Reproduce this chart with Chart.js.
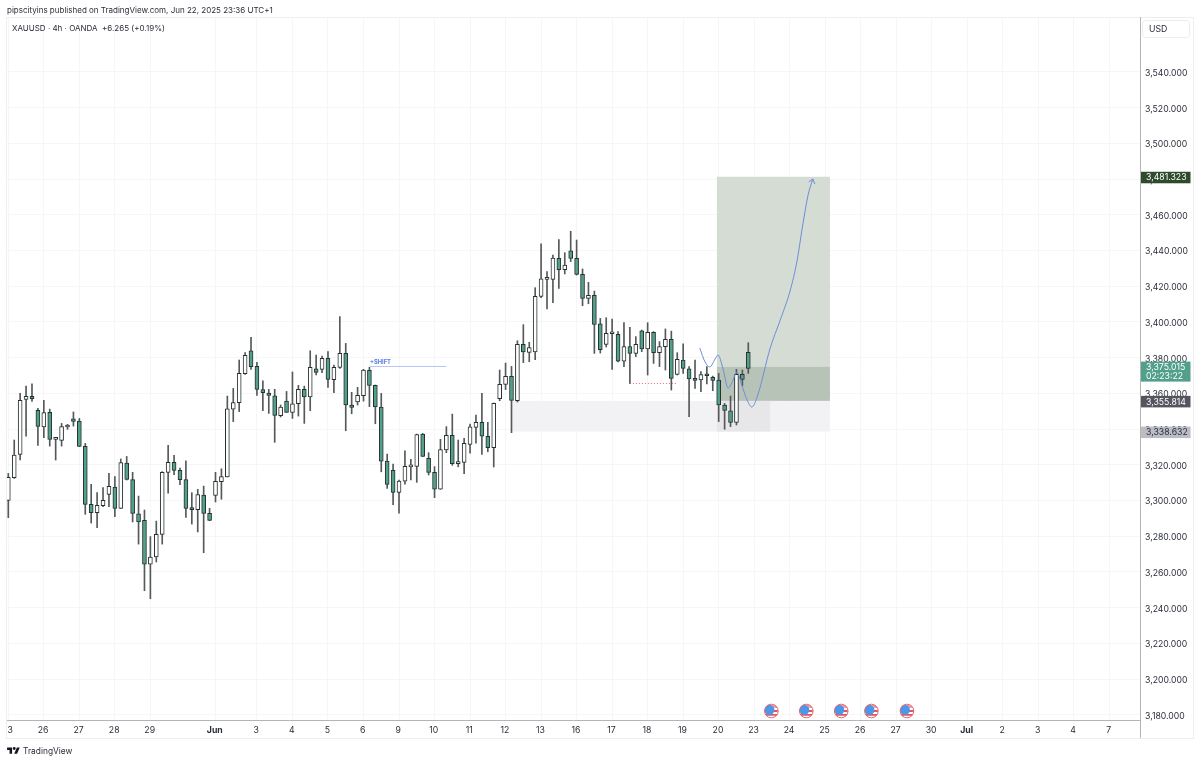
<!DOCTYPE html>
<html><head><meta charset="utf-8">
<style>
html,body{margin:0;padding:0;background:#fff;width:1200px;height:762px;overflow:hidden}
#wrap{position:relative;width:1200px;height:762px}
canvas{position:absolute;left:0;top:0}
.t{position:absolute;font-family:Inter,"Noto Sans",sans-serif;color:#2a2e39;white-space:pre}
</style>
</head><body><div id="wrap">
<canvas id="c" width="1200" height="762"></canvas>
<div class="t" id="pub" style="left:7px;top:4px;font-size:8px;line-height:12px"></div>
<div class="t" id="sym" style="left:12px;top:22px;font-size:8px;line-height:12px"></div>
<svg style="position:absolute;left:7px;top:746px" width="13" height="10" viewBox="0 0 36 28"><path d="M14 22H7V11H0V4h14v18zM28 22h-8l7.5-18h8L28 22z" fill="#131722"/><circle cx="20" cy="7" r="4" fill="#131722"/></svg>
<div class="t" id="brand" style="left:23px;top:745px;font-size:8.4px;line-height:12px"></div>
</div>
<script src="https://cdn.jsdelivr.net/npm/chart.js@4/dist/chart.umd.min.js"></script>
<script>
const publishedText = "pipscityins published on TradingView.com, Jun 22, 2025 23:36 UTC+1";
const symbolText = "XAUUSD · 4h · OANDA  +6.265 (+0.19%)";
const brandText = "TradingView";

const highs = [
3315.2,3333.9,3360.0,3364.1,3365.3,3351.6,3356.1,3351.2,3335.4,3343.2,
3342.7,3349.6,3346.0,3332.0,3309.1,3304.4,3307.2,3315.2,3313.4,3323.3,
3324.7,3315.8,3302.5,3294.7,3279.8,3288.5,3316.2,3330.9,3325.3,3318.2,
3322.3,3304.4,3306.3,3308.1,3295.6,3315.8,3317.8,3358.5,3362.8,3378.7,
3382.8,3391.4,3377.4,3367.1,3362.3,3362.3,3353.5,3361.1,3372.0,3364.5,
3364.1,3383.9,3381.5,3380.9,3383.4,3375.9,3403.0,3388.0,3360.6,3363.4,
3373.5,3374.6,3364.7,3360.0,3326.0,3320.4,3311.5,3327.9,3323.1,3337.2,
3337.6,3326.8,3319.0,3334.3,3341.4,3348.4,3333.9,3334.8,3342.8,3347.9,
3360.0,3343.8,3354.6,3373.1,3377.0,3375.1,3389.5,3398.5,3388.6,3419.2,
3443.7,3428.2,3437.5,3446.1,3438.8,3450.8,3445.9,3429.7,3422.2,3417.3,
3402.0,3402.4,3401.6,3394.6,3399.6,3397.0,3391.8,3395.5,3399.6,3394.6,
3389.0,3396.1,3394.9,3382.8,3387.7,3375.0,3378.7,3372.2,3375.0,3369.7,
3371.2,3354.4,3358.5,3373.5,3373.1,3388.4];
const lows = [
3290.4,3312.4,3322.7,3336.1,3355.5,3330.9,3335.2,3330.5,3322.7,3330.5,
3339.9,3341.7,3330.2,3292.3,3287.4,3284.8,3296.6,3296.6,3291.0,3295.6,
3311.5,3288.0,3275.6,3249.5,3245.0,3265.6,3275.6,3304.2,3314.5,3308.9,
3290.6,3286.8,3282.4,3270.8,3288.7,3299.2,3300.7,3313.2,3344.2,3349.8,
3370.7,3373.5,3358.9,3350.3,3348.8,3332.6,3346.8,3349.4,3346.0,3347.3,
3343.2,3350.3,3370.3,3371.6,3363.4,3360.4,3374.0,3339.1,3348.6,3353.5,
3355.7,3352.6,3343.0,3316.1,3306.8,3297.7,3293.0,3309.2,3311.5,3310.2,
3324.6,3314.3,3301.6,3306.3,3326.8,3319.7,3318.9,3315.0,3326.6,3332.2,
3325.9,3327.3,3318.8,3355.9,3362.1,3338.0,3355.2,3377.2,3377.8,3378.9,
3413.6,3407.3,3410.8,3418.8,3426.9,3433.8,3426.3,3409.1,3410.2,3382.4,
3382.6,3386.0,3373.5,3377.6,3375.0,3365.6,3380.6,3383.4,3370.3,3376.8,
3375.0,3373.1,3361.9,3370.3,3371.2,3347.0,3362.8,3361.0,3365.3,3361.5,
3344.2,3339.9,3341.4,3342.3,3364.3,3371.2];
const opens = [
3300.1,3312.8,3325.9,3356.7,3358.3,3350.5,3341.2,3349.4,3334.3,3333.7,
3341.2,3345.8,3344.5,3330.3,3297.9,3293.2,3297.1,3303.5,3307.6,3295.6,
3321.0,3311.7,3292.6,3288.9,3264.3,3268.4,3281.1,3315.8,3321.4,3316.9,
3311.7,3295.6,3294.9,3303.1,3292.8,3302.9,3310.6,3313.2,3351.2,3354.8,
3371.0,3383.9,3375.1,3362.1,3360.2,3358.7,3347.5,3355.7,3349.4,3354.2,
3362.3,3358.0,3373.8,3373.5,3379.6,3367.7,3374.6,3382.4,3353.5,3355.2,
3358.7,3372.9,3364.5,3352.4,3322.1,3316.9,3304.6,3310.9,3318.9,3319.1,
3337.2,3323.6,3315.8,3306.4,3328.3,3336.5,3320.6,3321.4,3331.5,3341.0,
3343.8,3336.0,3329.6,3357.0,3365.1,3369.5,3355.9,3387.5,3383.0,3383.2,
3414.3,3423.9,3423.9,3435.6,3429.3,3439.9,3435.6,3426.7,3413.2,3414.9,
3398.9,3387.5,3393.4,3393.1,3378.1,3386.2,3382.4,3395.1,3384.9,3394.2,
3382.8,3386.2,3390.3,3370.7,3378.7,3373.7,3367.9,3367.5,3370.5,3369.0,
3367.5,3353.5,3350.3,3343.8,3370.7,3383.0];
const closes = [
3313.0,3325.5,3356.1,3358.3,3357.0,3341.5,3349.2,3334.3,3334.6,3341.4,
3341.5,3344.3,3330.3,3297.9,3293.2,3297.3,3300.1,3307.9,3295.6,3321.2,
3311.9,3292.8,3288.0,3264.3,3268.4,3281.1,3315.8,3321.4,3316.9,3311.7,
3295.6,3294.9,3303.3,3292.8,3288.9,3310.7,3313.4,3351.4,3354.8,3371.2,
3381.3,3375.0,3362.3,3360.4,3358.9,3347.7,3352.4,3349.4,3354.2,3362.3,
3358.0,3374.6,3371.8,3379.6,3367.9,3374.6,3382.4,3353.5,3352.2,3358.9,
3373.1,3364.5,3352.4,3322.1,3309.1,3304.6,3310.9,3319.1,3319.3,3337.0,
3324.7,3315.8,3306.4,3328.5,3336.5,3320.6,3321.8,3332.0,3341.3,3343.8,
3336.0,3329.6,3354.4,3365.1,3369.5,3356.1,3387.5,3383.2,3385.6,3414.3,
3424.2,3424.4,3435.8,3429.3,3431.9,3435.6,3426.7,3413.2,3414.9,3398.7,
3384.5,3393.6,3393.6,3378.1,3386.2,3382.4,3387.5,3384.9,3394.2,3382.8,
3386.2,3390.3,3368.4,3379.1,3374.0,3368.1,3367.3,3370.5,3369.9,3367.3,
3353.5,3350.5,3343.8,3370.7,3367.9,3374.0];

const tickPositions = [0,6,12,18,24,35,42,48,54,60,66,72,78,84,90,96,102,108,114,120,126,132,138,144,150,156,162,168,174,180,186];
const tickLabels = ["23","26","27","28","29","Jun","3","4","5","6","9","10","11","12","13","16","17","18","19","20","23","24","25","26","27","30","Jul","2","3","4","7"];
const priceTicks = [3180,3200,3220,3240,3260,3280,3300,3320,3340,3360,3380,3400,3420,3440,3460,3480,3500,3520,3540];
const curveX = [116.8,117.7,118.5,119.4,119.9,120.7,121.6,122.2,123.1,123.9,124.8,125.6,126.6,128.7,130.4,132.1,133.2,134.2,135.1,135.9];
const curveY = [3385.4,3377.6,3374.8,3379.3,3381.5,3374.2,3363.0,3365.8,3372.0,3364.7,3356.3,3352.4,3359.1,3385.4,3401.1,3417.9,3433.6,3454.3,3471.1,3480.1];
const eventSlots = [128.9,134.8,140.7,145.8,151.8];
const targetPrice = 3481.323, entryPrice = 3375.015, stopPrice = 3355.814, zonePrice = 3338.632;

const TEAL = "#52a08b", INK = "#26302e", WICK = "#55595a";
const FONT = "Inter, 'Noto Sans', sans-serif";
document.getElementById('pub').textContent = publishedText;
document.getElementById('sym').textContent = symbolText;
document.getElementById('brand').textContent = brandText;

const idx = opens.map((_,i)=>i);
const wickData = idx.map(i=>({x:i,y:[lows[i],highs[i]]}));
const bodyData = idx.map(i=>({x:i,y:[Math.min(opens[i],closes[i]),Math.max(opens[i],closes[i])]}));
const bodyFill = idx.map(i=>closes[i]<opens[i]?TEAL:"#ffffff");

const overlays = {
  id:'overlays',
  beforeDraw(ch){
    ch.scales.y.getLabelItems().forEach(it=>{ if(!it.__moved){ it.options.translation[1]+=1.3; it.__moved=true; } });
    ch.scales.x.getLabelItems().forEach(it=>{ if(!it.__moved){ it.options.translation[0]-=0.7; it.__moved=true; } });
  },
  beforeDatasetsDraw(ch){
    const {ctx,scales:{x,y}} = ch;
    const rect=(x0,x1,p0,p1,col)=>{ctx.fillStyle=col;const a=x.getPixelForValue(x0),b=x.getPixelForValue(x1),c=y.getPixelForValue(p0),d=y.getPixelForValue(p1);ctx.fillRect(a,c,b-a,d-c);};
    ctx.save();
    rect(84.9,138.8,stopPrice,zonePrice,"#f2f2f4");
    rect(119.7,128.7,stopPrice,zonePrice,"#e7e7ea");
    rect(119.7,138.8,targetPrice,entryPrice,"#d4dcd4");
    rect(119.7,138.8,entryPrice,stopPrice,"#b8c3b8");
    // shift level
    ctx.strokeStyle="#b9c6f2";ctx.lineWidth=1;ctx.beginPath();
    ctx.moveTo(x.getPixelForValue(61),Math.round(y.getPixelForValue(3375.2))+.5);
    ctx.lineTo(x.getPixelForValue(74),Math.round(y.getPixelForValue(3375.2))+.5);ctx.stroke();
    ctx.fillStyle="#5b7fe0";ctx.font="bold 5.8px "+FONT;ctx.textBaseline="middle";ctx.textAlign="left";
    ctx.fillText("+SHIFT",x.getPixelForValue(61.1),y.getPixelForValue(3377.4));
    // dotted level
    ctx.strokeStyle="#e07070";ctx.setLineDash([1,2]);ctx.beginPath();
    ctx.moveTo(x.getPixelForValue(105),Math.round(y.getPixelForValue(3365.6))+.5);
    ctx.lineTo(x.getPixelForValue(112.8),Math.round(y.getPixelForValue(3365.6))+.5);ctx.stroke();
    ctx.restore();
  },
  afterDraw(ch){
    const {ctx,scales:{x,y}} = ch;
    ctx.save();
    // cover clipped first label
    ctx.fillStyle="#fff";ctx.fillRect(0,722,6.5,15);
    // frame
    ctx.strokeStyle="#eeeeee";ctx.lineWidth=1;ctx.strokeRect(6.5,17.5,1187,721);
    ctx.strokeStyle="#b4b4b4";ctx.beginPath();ctx.moveTo(1140.5,17);ctx.lineTo(1140.5,738);ctx.stroke();
    // arrow head
    const ax=x.getPixelForValue(curveX[curveX.length-1]),ay=y.getPixelForValue(curveY[curveY.length-1]);
    ctx.strokeStyle="#6b8fd6";ctx.lineWidth=1;ctx.beginPath();ctx.moveTo(ax-4,ay+3);ctx.lineTo(ax,ay);ctx.lineTo(ax+2,ay+5);ctx.stroke();
    // event icons
    eventSlots.forEach(s=>{
      const cx=x.getPixelForValue(s),cy=711;
      ctx.save();ctx.beginPath();ctx.arc(cx,cy,7,0,Math.PI*2);ctx.fillStyle="#fff";ctx.fill();
      ctx.clip();
      ctx.fillStyle="#f0a0a8";ctx.fillRect(cx-7,cy-6,14,12);
      ctx.fillStyle="#fff";ctx.fillRect(cx-7,cy-3,14,2);ctx.fillRect(cx-7,cy+1,14,2);ctx.fillRect(cx-7,cy+5,14,2);
      ctx.fillStyle="#e25563";ctx.fillRect(cx-2,cy-1,8,2);ctx.fillRect(cx-6,cy+3,12,1.5);
      ctx.fillStyle="#4a98e8";ctx.beginPath();ctx.arc(cx-2,cy-1,5,0,Math.PI*2);ctx.fill();
      ctx.restore();
      ctx.strokeStyle="#e8626f";ctx.lineWidth=1;ctx.beginPath();ctx.arc(cx,cy,6.8,0,Math.PI*2);ctx.stroke();
    });
    // price tags
    const tag=(p,bg,fg,txt,txt2)=>{
      const c=y.getPixelForValue(p);
      const h=txt2?20:11.5, top=c-5;
      ctx.fillStyle=bg;ctx.fillRect(1141,top,49.5,h);
      ctx.fillStyle=fg;ctx.font="8.7px "+FONT;ctx.textAlign="left";ctx.textBaseline="middle";
      ctx.fillText(txt,1146,top+6);
      if(txt2)ctx.fillText(txt2,1146,top+15);
    };
    tag(targetPrice,"#2f4a2c","#ffffff","3,481.323");
    tag(zonePrice,"#bcbcc4","#2a2e39","3,338.632");
    tag(stopPrice,"#55555f","#ffffff","3,355.814");
    tag(entryPrice,"#52a08b","#ffffff","3,375.015","02:23:22");
    // currency box
    ctx.strokeStyle="#ececec";ctx.lineWidth=1;ctx.beginPath();ctx.roundRect(1142.5,20.5,47,17,3);ctx.stroke();
    ctx.fillStyle="#2a2e39";ctx.font="8.7px "+FONT;ctx.textAlign="left";ctx.textBaseline="middle";
    ctx.fillText("USD",1149,29);
    ctx.restore();
  }
};

new Chart(document.getElementById('c'),{
  data:{datasets:[
    {type:'bar',label:'wick',data:wickData,grouped:false,barThickness:1,backgroundColor:WICK,order:3},
    {type:'bar',label:'body',data:bodyData,grouped:false,barThickness:4,minBarLength:2,backgroundColor:bodyFill,borderColor:INK,borderWidth:1,borderSkipped:false,order:2},
    {type:'line',label:'path',data:curveX.map((v,i)=>({x:v,y:curveY[i]})),borderColor:"#6b8fd6",borderWidth:1,pointRadius:0,tension:0.4,cubicInterpolationMode:'monotone',order:1}
  ]},
  plugins:[overlays],
  options:{
    responsive:false,animation:false,
    layout:{padding:{left:6,top:17,right:7,bottom:24}},
    plugins:{legend:{display:false},tooltip:{enabled:false},title:{display:false}},
    scales:{
      x:{type:'linear',min:-0.39,max:191.17,offset:false,
        afterBuildTicks:s=>{s.ticks=tickPositions.map(v=>({value:v}));},
        afterFit:s=>{s.height=18;s.paddingLeft=0;s.paddingRight=0;},
        grid:{color:"#f6f6f7",drawTicks:false,offset:false},
        border:{color:"#b4b4b4"},
        ticks:{autoSkip:false,maxRotation:0,padding:5,color:"#2a2e39",
          callback:v=>tickLabels[tickPositions.indexOf(v)],
          font:c=>({family:FONT,size:8.7,weight:(c.tick&&(c.tick.value===35||c.tick.value===162))?'bold':'normal'})}
      },
      y:{type:'linear',position:'right',min:3177.1,max:3570.8,
        afterBuildTicks:s=>{s.ticks=priceTicks.map(v=>({value:v}));},
        afterFit:s=>{s.width=53;s.paddingTop=0;s.paddingBottom=0;},
        grid:{color:"#f6f6f7",drawTicks:false},
        border:{display:false},
        ticks:{padding:5,color:"#2a2e39",font:{family:FONT,size:8.7},
          callback:v=>v.toLocaleString('en-US',{minimumFractionDigits:3,maximumFractionDigits:3})}
      }
    }
  }
});
</script>
</body></html>
